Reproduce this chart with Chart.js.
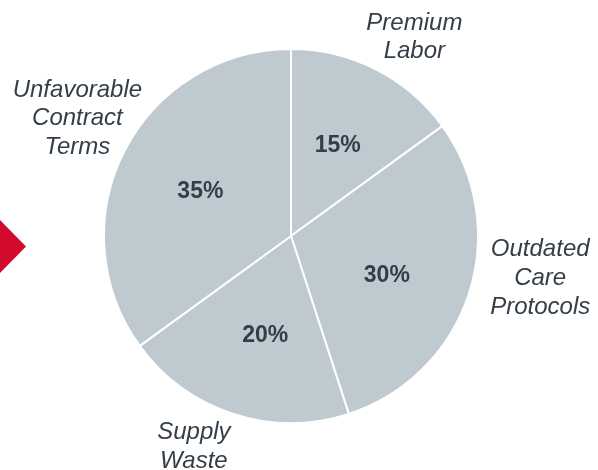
<!DOCTYPE html>
<html>
<head>
<meta charset="utf-8">
<script src="https://cdn.jsdelivr.net/npm/chart.js@4.4.1/dist/chart.umd.min.js"></script>
<style>
  html, body { margin: 0; padding: 0; background: #ffffff; }
  #wrap { width: 598px; height: 470px; position: relative; }
</style>
</head>
<body>
<div id="wrap"><canvas id="costPie" width="598" height="470"></canvas></div>
<script>
// 비용 구성 (시계방향, 12시 시작)
const categories = [
  ["Premium", "Labor"],
  ["Outdated", "Care", "Protocols"],
  ["Supply", "Waste"],
  ["Unfavorable", "Contract", "Terms"]
];
const shareValues = [15, 30, 20, 35];

const sliceColor = "#bfc9d0";
const textColor  = "#333e48";
const accentRed  = "#d20a2e";

// 라벨 위치 보정 (px) - 안쪽 퍼센트 / 바깥 항목명
const pctNudge   = [[0, 1], [-2, 8], [6, 2], [1, 2]];
const labelNudge = [[13, 18], [18, -33], [-22, -20], [3, -7]];

const sliceLabels = {
  id: "sliceLabels",
  beforeDraw(chart) {
    // 왼쪽 빨간 마름모
    const c = chart.ctx;
    c.save();
    c.fillStyle = accentRed;
    c.beginPath();
    c.moveTo(0, 220);
    c.lineTo(26, 246.5);
    c.lineTo(0, 273);
    c.closePath();
    c.fill();
    c.restore();
  },
  afterDatasetsDraw(chart) {
    const c = chart.ctx;
    const meta = chart.getDatasetMeta(0);
    c.save();
    c.fillStyle = textColor;
    c.textAlign = "center";
    c.textBaseline = "middle";
    meta.data.forEach((arc, i) => {
      const p = arc.getProps(["x", "y", "startAngle", "endAngle", "outerRadius"], true);
      const mid = (p.startAngle + p.endAngle) / 2;
      // 퍼센트
      const rIn = p.outerRadius * 0.55;
      c.font = "bold 23px 'Liberation Sans', Arial, sans-serif";
      c.fillText(shareValues[i] + "%",
        p.x + Math.cos(mid) * rIn + pctNudge[i][0],
        p.y + Math.sin(mid) * rIn + pctNudge[i][1]);
      // 항목명
      const rOut = p.outerRadius * 1.3;
      const lines = categories[i];
      const lh = 28.8;
      const cx = p.x + Math.cos(mid) * rOut + labelNudge[i][0];
      const cy = p.y + Math.sin(mid) * rOut + labelNudge[i][1];
      c.font = "italic 24px 'Liberation Sans', Arial, sans-serif";
      lines.forEach((t, k) => {
        c.fillText(t, cx, cy + (k - (lines.length - 1) / 2) * lh);
      });
    });
    c.restore();
  }
};

const chart = new Chart(document.getElementById("costPie").getContext("2d"), {
  type: "pie",
  data: {
    labels: categories.map(l => l.join(" ")),
    datasets: [{
      data: shareValues,
      backgroundColor: sliceColor,
      borderColor: "#ffffff",
      borderWidth: 2
    }]
  },
  options: {
    responsive: false,
    animation: false,
    radius: 187,
    layout: { padding: { left: 0, right: 16, top: 2, bottom: 0 } },
    plugins: {
      legend: { display: false },
      tooltip: { enabled: false }
    }
  },
  plugins: [sliceLabels]
});
</script>
</body>
</html>
